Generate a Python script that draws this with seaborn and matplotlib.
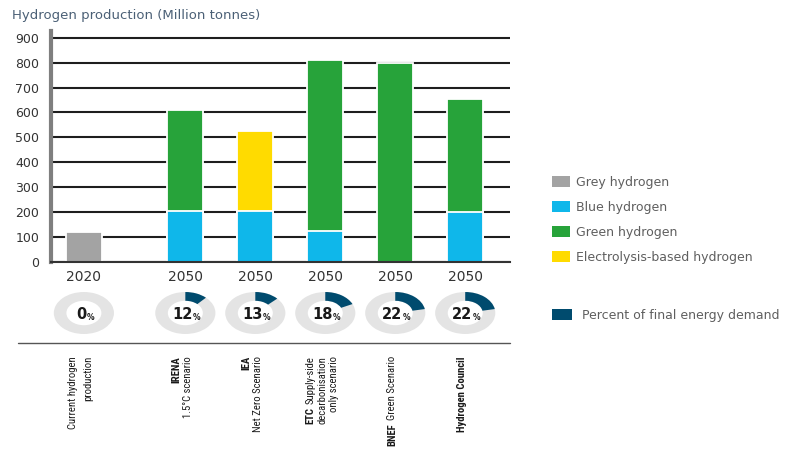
import numpy as np
import pandas as pd
import matplotlib
matplotlib.use("Agg")
import matplotlib.pyplot as plt
import seaborn as sns
from matplotlib import transforms, font_manager
from matplotlib.patches import Wedge, Patch
from matplotlib.lines import Line2D

# ---------------- data ----------------
years = ["2020", "2050", "2050", "2050", "2050", "2050"]
grey_h = [120, 0, 0, 0, 0, 0]
blue_h = [0, 205, 205, 125, 0, 200]
green_h = [0, 405, 0, 685, 800, 455]
electrolysis_h = [0, 0, 320, 0, 0, 0]
pct_final_energy = [0, 12, 13, 18, 22, 22]
y_ticks = [0, 100, 200, 300, 400, 500, 600, 700, 800, 900]
series_names = ["Grey hydrogen", "Blue hydrogen", "Green hydrogen", "Electrolysis-based hydrogen"]
pct_name = "Percent of final energy demand"
title = "Hydrogen production (Million tonnes)"
scenario_labels = [
    [[("Current hydrogen", False)], [("production", False)]],
    [[("IRENA", True)], [("1.5°C scenario", False)]],
    [[("IEA", True)], [("Net Zero Scenario", False)]],
    [[("ETC", True), ("Supply-side", False)], [("decarbonisation", False)], [("only scenario", False)]],
    [[("BNEF", True), ("Green Scenario", False)]],
    [[("Hydrogen Council", True)]],
]

# ---------------- layout / style ----------------
x_pos = [0, 1.45, 2.45, 3.45, 4.45, 5.45]
colors = ["#a3a3a3", "#0fb7ea", "#27a33a", "#ffdb00"]
pct_color = "#004b6e"
ring_color = "#e4e4e4"
W, H = 794, 450
XL = (-0.47, 6.09)

sns.set_theme(style="white")
plt.rcParams["font.family"] = ["DejaVu Sans"]

avail = {f.name for f in font_manager.fontManager.ttflist}
if "Liberation Sans Narrow" in avail:
    cond_font, cond_size = "Liberation Sans Narrow", 8.0
elif "Roboto Condensed" in avail:
    cond_font, cond_size = "Roboto Condensed", 7.7
else:
    cond_font, cond_size = "DejaVu Sans", 6.4

fig = plt.figure(figsize=(W / 100, H / 100), dpi=100)
fig.patch.set_facecolor("white")

ax = fig.add_axes([51 / W, (H - 262) / H, (510 - 51) / W, (262 - 31) / H])

# stacked bars drawn as cumulative layers (top layer first)
layers = [grey_h, blue_h, green_h, electrolysis_h]
cum = np.zeros(len(x_pos))
tops = []
for vals, col in zip(layers, colors):
    v = np.array(vals, dtype=float)
    cum = cum + v
    tops.append((cum.copy(), v, col))
for top, v, col in reversed(tops):
    mask = v > 0
    df = pd.DataFrame({"x": np.array(x_pos)[mask], "y": top[mask]})
    sns.barplot(data=df, x="x", y="y", native_scale=True, orient="x", width=0.51,
                color=col, saturation=1, edgecolor="white", linewidth=1.3,
                errorbar=None, ax=ax, zorder=3)

ax.set_xlim(*XL)
ax.set_ylim(0, 927)
ax.set_yticks(y_ticks)
ax.set_xticks(x_pos)
ax.set_xticklabels(years)
ax.set_xlabel("")
ax.set_ylabel("")
ax.grid(axis="y", color="#1e1e1e", linewidth=1.5)
ax.grid(axis="x", visible=False)
ax.set_axisbelow(True)
for s in ["top", "right"]:
    ax.spines[s].set_visible(False)
ax.spines["left"].set_color("#7f7f7f")
ax.spines["left"].set_linewidth(3)
ax.spines["bottom"].set_color("#333333")
ax.spines["bottom"].set_linewidth(1.5)
ax.spines["bottom"].set_zorder(5)
ax.spines["left"].set_zorder(5)
ax.tick_params(axis="y", length=0, pad=8.6, labelsize=9, labelcolor="#333333")
ax.tick_params(axis="x", length=0, pad=5.5, labelsize=10, labelcolor="#333333")

# title
fig.text(12 / W, 1 - 19 / H, title, fontsize=9.5, color="#4b6076", va="baseline", ha="left")

# donut row
ax2 = fig.add_axes([51 / W, (H - 346) / H, (510 - 51) / W, 66 / H])
ax2.set_xlim(*XL)
ax2.set_ylim(-0.676, 0.676)
ax2.axis("off")
for x, p in zip(x_pos, pct_final_energy):
    ax2.add_patch(Wedge((x, 0), 0.43, 0, 360, width=0.18, facecolor=ring_color, edgecolor="none"))
    if p > 0:
        ax2.add_patch(Wedge((x, 0), 0.43, 90 - 3.6 * p, 90, width=0.18,
                            facecolor=pct_color, edgecolor="none"))
    t = ax2.annotate(str(p), xy=(x, 0), xytext=(-3, -1.5), textcoords="offset pixels",
                     ha="center", va="center", fontsize=10.5, fontweight="bold", color="#1a1a1a")
    ax2.annotate("%", xy=(1, 0), xycoords=t, xytext=(0.5, 0), textcoords="offset pixels",
                 ha="left", va="bottom", fontsize=5.5, fontweight="bold", color="#1a1a1a")

# separator line
fig.add_artist(Line2D([18 / W, 510 / W], [(H - 343) / H] * 2, color="#555555", lw=1))

# rotated scenario labels
blend = transforms.blended_transform_factory(ax.transData, fig.transFigure)
line_gaps = [15, 12, 12, 12, 12, 12]
top_y = (H - 356) / H
for x, lines, gap in zip(x_pos, scenario_labels, line_gaps):
    n = len(lines)
    for i, segs in enumerate(lines):
        dx = (i - (n - 1) / 2) * gap - 3
        prev = None
        for text, bold in reversed(segs):
            kw = dict(rotation=90, ha="center", va="top", fontsize=cond_size,
                      family=cond_font, fontweight="bold" if bold else "normal",
                      color="#1a1a1a", annotation_clip=False)
            if prev is None:
                prev = fig.add_artist(matplotlib.text.Annotation(
                    text, xy=(x, top_y), xycoords=blend, xytext=(dx, 0),
                    textcoords="offset pixels", **kw))
            else:
                prev = fig.add_artist(matplotlib.text.Annotation(
                    text, xy=(0.5, 0), xycoords=prev, xytext=(0, -3),
                    textcoords="offset pixels", **kw))

# legends
handles = [Patch(facecolor=c, edgecolor="none", label=n) for n, c in zip(series_names, colors)]
leg1 = fig.legend(handles=handles, loc="upper left", bbox_to_anchor=(552 / W, (H - 176) / H),
                  frameon=False, fontsize=9, handlelength=1.45, handleheight=0.95,
                  handletextpad=0.5, labelspacing=0.95, borderpad=0, borderaxespad=0)
for t in leg1.get_texts():
    t.set_color("#5f5f5f")
leg2 = fig.legend(handles=[Patch(facecolor=pct_color, edgecolor="none", label=pct_name)],
                  loc="upper left", bbox_to_anchor=(552 / W, (H - 309) / H),
                  frameon=False, fontsize=9, handlelength=1.6, handleheight=0.95,
                  handletextpad=0.8, borderpad=0, borderaxespad=0)
for t in leg2.get_texts():
    t.set_color("#5f5f5f")

fig.savefig("out.png", dpi=100, facecolor="white")
